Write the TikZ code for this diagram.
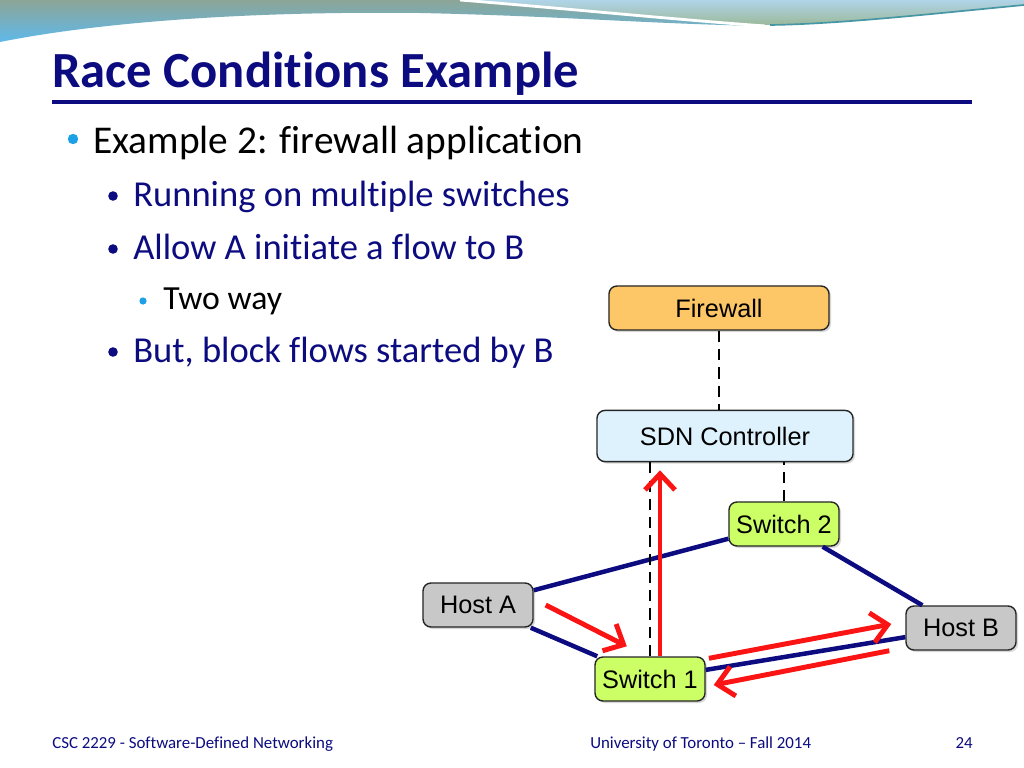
\documentclass[tikz,border=0pt]{standalone}
\usepackage{fontspec}
\setmainfont[Ligatures=NoCommon]{Carlito}
\newfontfamily\boxfont{Liberation Sans}
\usepackage{tikz}
\usetikzlibrary{arrows.meta,shadows}
\tikzset{>={Straight Barb[length=0.4cm,width=0.75cm]}}

\definecolor{navy}{RGB}{12,12,128}
\definecolor{dotblue}{RGB}{30,160,230}
\definecolor{fwfill}{RGB}{253,198,102}
\definecolor{sdnfill}{RGB}{221,242,252}
\definecolor{swfill}{RGB}{204,255,102}
\definecolor{hostfill}{RGB}{200,200,200}
\definecolor{flowred}{RGB}{250,20,20}
\definecolor{skytop}{RGB}{176,212,232}
\definecolor{skybot}{RGB}{155,185,155}
\definecolor{bandtop}{RGB}{140,165,150}
\definecolor{bandbot}{RGB}{95,185,235}
\definecolor{tealline}{RGB}{70,150,165}

\tikzset{
  box/.style={draw=black!85, line width=1pt, rounded corners=0.2cm,
    minimum width=2.75cm, minimum height=1.1cm,
    font=\boxfont\fontsize{18}{21}\selectfont,
    drop shadow={shadow xshift=0.05cm, shadow yshift=-0.05cm, opacity=0.3}},
  link/.style={navy, line width=3.2pt},
  ctrl/.style={black, line width=1.8pt, dash pattern=on 8pt off 5pt},
  flow/.style={->, flowred, line width=3.5pt},
}

\begin{document}
\begin{tikzpicture}[x=0.025cm,y=-0.025cm]
\useasboundingbox (0,0) rectangle (1024,768);
\fill[white] (0,0) rectangle (1024,768);
% top swoosh
\shade[top color=skytop, bottom color=skybot]
  (470,0) -- (1024,0) -- (1024,5) .. controls (930,14) and (840,24) .. (770,25)
  .. controls (650,20) and (550,6) .. (470,0) -- cycle;
\shade[top color=bandtop, bottom color=bandbot]
  (0,0) -- (460,0) .. controls (560,8) and (680,20) .. (765,26)
  .. controls (650,24) and (560,16) .. (420,13) .. controls (250,11) and (100,22) .. (0,42) -- cycle;
\draw[white, line width=2pt] (460,0) .. controls (560,8) and (680,20) .. (765,26);
\draw[tealline, line width=1.2pt] (770,25) .. controls (840,24) and (930,14) .. (1024,5);

% title
\node[anchor=base west, inner sep=0, text=navy, font=\bfseries\fontsize{36}{43}\selectfont] (title) at (52,88) {Race Conditions Example};
\draw[navy, line width=2.8pt] (52,102) -- (972,102);

% bullets
\fill[dotblue] (73,139) circle[radius=0.13cm];
\node[anchor=base west, inner sep=0, font=\fontsize{28}{34}\selectfont] (l1) at (93,153) {Example 2: firewall application};
\fill[navy] (113,196) circle[radius=0.12cm];
\node[anchor=base west, inner sep=0, text=navy, font=\fontsize{26}{31}\selectfont] (l2a) at (133,206) {Running on multiple switches};
\fill[navy] (113,249) circle[radius=0.12cm];
\node[anchor=base west, inner sep=0, text=navy, font=\fontsize{26}{31}\selectfont] (l2b) at (133,259) {Allow A initiate a flow to B};
\fill[dotblue] (143,301) circle[radius=0.09cm];
\node[anchor=base west, inner sep=0, font=\fontsize{24}{29}\selectfont] (l3) at (163,309) {Two way};
\fill[navy] (113,352) circle[radius=0.12cm];
\node[anchor=base west, inner sep=0, text=navy, font=\fontsize{26}{31}\selectfont] (l2c) at (133,362) {But, block flows started by B};

% diagram
\node[box, fill=fwfill, minimum width=5.5cm] (fw) at (719,308) {Firewall};
\node[box, fill=sdnfill, minimum width=6.4cm, minimum height=1.28cm] (sdn) at (725,436) {SDN Controller};
\node[box, fill=swfill] (sw2) at (784,524) {Switch 2};
\node[box, fill=hostfill] (hostA) at (478,605) {Host A};
\node[box, fill=hostfill] (hostB) at (961,628) {Host B};
\node[box, fill=swfill] (sw1) at (650,679) {Switch 1};

\draw[link] (hostA) -- (sw2);
\draw[link] (hostA) -- (sw1);
\draw[link] (sw2) -- (hostB);
\draw[link] (sw1) -- (hostB);

\draw[ctrl] (fw.south) -- (fw.south |- sdn.north);
\draw[ctrl] (sw2.north) -- (sw2.north |- sdn.south);
\draw[ctrl] (sw1.north) -- (sw1.north |- sdn.south);

\draw[flow] ([xshift=0.3cm]hostA.east) -- ([shift={(-0.58cm,0.25cm)}]sw1.north);
\draw[flow] ([xshift=0.25cm]sw1.north) -- ([shift={(0.25cm,-0.2cm)}]sw1.north |- sdn.south);
\draw[flow] ([shift={(0.08cm,-0.05cm)}]sw1.north east) -- ([shift={(-0.35cm,0.1cm)}]hostB.west);
\draw[flow] ([xshift=-0.4cm]hostB.south west) -- ([shift={(0.2cm,-0.15cm)}]sw1.east);

% footer
\node[anchor=base west, inner sep=0, text=navy, font=\fontsize{12}{14}\selectfont] (foot1) at (52,748) {CSC 2229 - Software-Defined Networking};
\node[anchor=base west, inner sep=0, text=navy, font=\fontsize{12}{14}\selectfont] (foot2) at (590,748) {University of Toronto -- Fall 2014};
\node[anchor=base east, inner sep=0, text=navy, font=\fontsize{12}{14}\selectfont] (foot3) at (973,748) {24};
\end{tikzpicture}
\end{document}
